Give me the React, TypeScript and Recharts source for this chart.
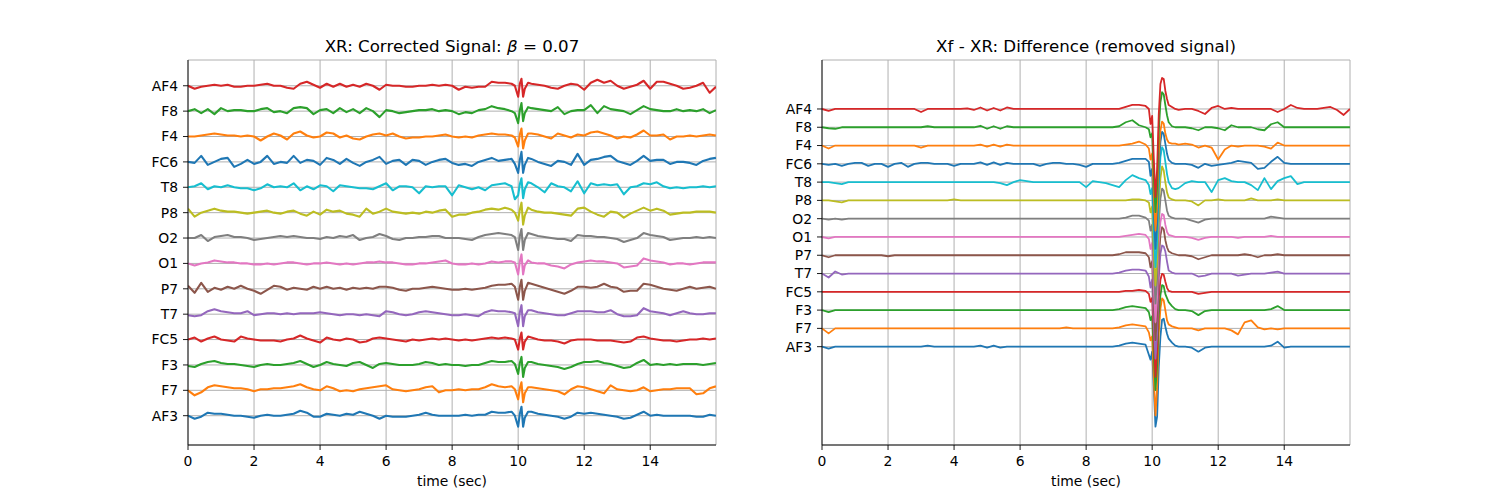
import React from 'react';
import { LineChart, Line, XAxis, YAxis, CartesianGrid } from 'recharts';

// ---------- categories ----------
const CHANNELS = ['AF3', 'F7', 'F3', 'FC5', 'T7', 'P7', 'O1', 'O2', 'P8', 'T8', 'FC6', 'F4', 'F8', 'AF4'];
const COLORS = ['#1f77b4', '#ff7f0e', '#2ca02c', '#d62728', '#9467bd', '#8c564b', '#e377c2', '#7f7f7f', '#bcbd22', '#17becf', '#1f77b4', '#ff7f0e', '#2ca02c', '#d62728'];
const X_TICKS = [0, 2, 4, 6, 8, 10, 12, 14];
const T_END = 15.992;

// ---------- time samples (sec) ----------
const LEFT_T = [
  0, 0.2, 0.4, 0.6, 0.8, 1, 1.2, 1.4, 1.6, 1.8, 2, 2.2, 2.4, 2.6, 2.8, 3, 3.2, 3.4, 3.6, 3.8, 4,
  4.2, 4.4, 4.6, 4.8, 5, 5.2, 5.4, 5.6, 5.8, 6, 6.2, 6.4, 6.6, 6.8, 7, 7.2, 7.4, 7.6, 7.8,
  8, 8.2, 8.4, 8.6, 8.8, 9, 9.2, 9.4, 9.6, 9.8,
  9.9, 10, 10.05, 10.1, 10.15, 10.2, 10.3,
  10.4, 10.6, 10.8, 11, 11.2, 11.4, 11.6, 11.8,
  12, 12.2, 12.4, 12.6, 12.8, 13, 13.2, 13.4, 13.6, 13.8, 14, 14.2, 14.4, 14.6, 14.8, 15, 15.2, 15.4, 15.6, 15.8,
  15.99,
];

const RIGHT_T = [
  0, 0.2, 0.4, 0.6, 0.8, 1, 1.2, 1.4, 1.6, 1.8, 2, 2.2, 2.4, 2.6, 2.8,
  3, 3.2, 3.4, 3.6, 3.8, 4, 4.2, 4.4, 4.6, 4.8, 5, 5.2, 5.4, 5.6, 5.8,
  6, 6.2, 6.4, 6.6, 6.8, 7, 7.2, 7.4, 7.6, 7.8, 8, 8.2, 8.4, 8.6, 8.8,
  9, 9.2, 9.4, 9.6, 9.8, 9.9,
  9.95, 10, 10.05, 10.1, 10.15, 10.2, 10.25, 10.3, 10.35, 10.4, 10.45, 10.5, 10.6, 10.7, 10.8,
  11, 11.2, 11.4, 11.6, 11.8, 12, 12.2, 12.4, 12.6, 12.8, 13, 13.2, 13.4, 13.6, 13.8,
  14, 14.2, 14.4, 14.6, 14.8, 15, 15.2, 15.4, 15.6, 15.8,
  15.99,
];

// ---------- left panel: corrected signal amplitudes ----------
const L_AF4 = [
  0, -3, -1, 0, 1, 0, 1, -1, -1, 0, 0, 1, 2, 0, 0, -2, -3, 2, 4, 1, -2,
  2, -1, 2, -1, 1, -1, 2, 0, -4, 1, 0, 0, -1, -1, 0, 0, 1, 0, 1,
  0, -4, -1, -2, -1, -1, 4, 3, 3, 2,
  0, -11, 2, 7, -11, -3, 3,
  2, 1, 0, -2, -3, 0, 2, 1,
  -4, 3, 6, 3, 5, 0, -3, -1, 1, 5, -3, 4, 4, 2, 0, -3, -2, 0, 3, -7,
  -1,
];
const L_F8 = [
  0, 2, -2, 2, -3, 3, 0, 1, 1, 0, 0, 2, 3, -1, 0, -2, 3, 4, 3, -3, 1,
  2, -2, 3, -1, 2, -2, 3, 0, -6, 1, 0, -2, -1, 0, 1, 1, 2, 0, 1,
  0, -3, -1, -2, 1, 2, 5, 3, 2, 0,
  -2, -12, 1, 8, -10, -2, 4,
  3, 2, 1, 0, 4, -3, 0, 1,
  1, 6, -2, 5, 2, 1, 0, -3, 1, 5, 2, 1, 0, 0, 2, 0, 1, 0, 2, -2,
  1,
];
const L_F4 = [
  0, 0, 1, 2, 3, 2, 1, 1, 0, 1, 0, -4, 0, 3, 1, -3, 3, 5, 1, -1, 0,
  4, 3, -1, 1, -2, -3, 0, 2, 3, 1, 3, 0, -2, -1, -1, 0, 0, 1, 2,
  0, -1, 0, -1, 1, 2, 3, 2, 2, 1,
  -1, -10, 2, 8, -12, -4, 3,
  3, 2, 0, -2, 3, 1, -1, 2,
  1, 4, 5, 3, 1, -2, 0, -1, 2, 6, 1, 1, 2, -3, 0, 0, 1, 0, 1, 2,
  1,
];
const L_FC6 = [
  0, -1, 6, -3, 0, 3, 4, -5, -2, 2, -2, 0, 6, -2, 0, -1, 6, -1, 2, 1, -3,
  4, 2, -2, 3, -1, -4, 0, 2, 5, -2, 1, 2, -3, 2, 1, -3, 0, 2, 3,
  -1, -3, -2, -4, 0, 2, 4, 1, 2, 3,
  -2, -11, 2, 10, -11, -3, 4,
  3, 0, -2, -4, 1, 0, -3, 8,
  -3, 2, 3, 5, 6, 1, -1, -3, 1, 6, 1, 2, 2, -2, 0, 0, -1, -3, 1, 3,
  4,
];
const L_T8 = [
  0, 1, 4, -2, 1, 0, 2, 0, -1, -1, -3, -1, 3, 0, 1, 0, 4, -3, 1, -2, 2,
  1, -4, 2, 1, 0, -1, -1, -2, 1, 4, -3, 1, 1, 0, -6, 1, 0, 1, 1,
  -8, 2, 0, -2, 0, -3, 2, 3, 4, 1,
  -12, -8, 3, 9, -11, -2, 5,
  4, 0, -5, 4, 1, 0, -4, 6,
  -6, 4, 2, 3, 2, 3, -7, 0, 1, 4, 3, 5, 1, -1, 0, -1, 0, 0, 1, 0,
  1,
];
const L_P8 = [
  4, -4, 0, 2, 4, 2, 1, 1, 0, -1, 0, 1, 2, 0, -1, 1, 2, -1, -3, 1, -2,
  3, 1, 2, -1, -2, -4, 4, -1, 1, 4, 1, 0, -1, 0, -1, 1, 0, 2, 3,
  -4, -2, -2, 0, 1, 3, 4, 3, 5, 3,
  0, -8, 3, 10, -12, -3, 5,
  3, 1, 0, 0, -1, -2, -3, 4,
  5, 1, -2, -4, 1, 0, -5, -1, 2, 5, 2, 4, 2, -2, -1, 0, 0, 1, 1, 1,
  0,
];
const L_O2 = [
  0, 0, 3, -3, 1, 2, 3, 1, 1, 0, -2, -1, 0, 1, 2, 1, 2, 1, 0, 0, -1,
  1, 0, 2, 1, 3, -2, 0, 1, 4, 2, -1, -2, 0, 0, 1, 1, 2, 2, 0,
  0, 0, -1, -2, 1, 3, 4, 5, 4, 3,
  1, -12, 2, 9, -12, -2, 5,
  4, 2, 1, 0, -1, -1, -3, 3,
  2, 2, 1, 1, 0, -1, -4, -2, 0, 5, 3, 2, 1, -2, -1, 0, 0, 1, 0, 1,
  0,
];
const L_O1 = [
  0, -2, 0, 1, 3, 2, 1, 1, 0, 0, -1, -1, 0, -1, 0, 1, 1, 0, -1, 0, 0,
  1, 0, -1, 0, -1, 0, 1, 1, 2, 1, 1, 0, -1, -1, 0, 0, 1, 2, 3,
  0, -1, -1, 0, -1, 0, 2, 1, 2, 2,
  1, -11, 2, 9, -11, -2, 3,
  1, 0, 0, -2, -3, -5, -1, 1,
  2, 3, 2, 2, 1, 0, -4, -3, -2, 5, 3, 2, 1, -1, 0, 0, -1, 0, 1, 1,
  1,
];
const L_P7 = [
  3, -4, 6, -3, 1, -1, 2, 0, 3, 0, -2, -5, -1, 3, 2, -1, 1, 0, -1, 2, 0,
  2, 0, 1, -1, 1, 0, 1, 0, 2, 2, 1, -1, -2, 0, 0, 1, 2, 1, 0,
  -1, -1, 0, -1, 0, 1, 3, 4, 4, 5,
  2, -11, 2, 9, -11, -2, 6,
  5, 3, 1, -1, -3, -5, -2, 2,
  2, 1, 2, 5, 2, 1, -3, -2, -2, 5, 4, 2, 0, -1, -2, 0, 2, 0, 1, 2,
  0,
];
const L_T7 = [
  -1, -2, -1, 3, 5, 3, 2, 1, 1, 3, -1, 0, 1, 1, 0, 1, 0, 1, 1, 1, 2,
  1, 0, -1, 0, 0, -1, 0, -1, -2, 3, 2, 0, -1, 0, 2, 3, 2, 1, 0,
  -1, -1, 0, -1, -2, 2, 4, 3, 3, 2,
  1, -12, 2, 9, -12, -2, 4,
  4, 2, 1, 0, -1, -1, 1, 3,
  3, 3, 2, 2, 4, 0, -2, -2, -1, 6, 3, 2, 1, -1, 1, 3, 1, 0, 0, 1,
  1,
];
const L_FC5 = [
  0, 2, -2, 1, 3, 0, -1, -2, 3, 1, 0, -1, -1, -1, -2, 0, 1, 4, 1, -1, -3,
  2, 0, -1, 1, 0, -3, -2, 1, 2, 1, 0, -1, -2, 0, -1, 0, 1, 0, 1,
  0, -1, 0, -1, 0, 1, 2, 1, 2, 1,
  0, -10, 1, 7, -10, -2, 3,
  2, 0, -1, -1, -2, -4, -1, 0,
  0, 0, -1, -1, -1, -2, -3, -2, 2, 3, 1, 0, -1, -1, -2, -1, 0, 0, 1, 0,
  1,
];
const L_F3 = [
  -1, -2, 1, 3, 4, 2, 1, 1, 0, -1, -2, 0, 1, 0, 0, 1, 2, 4, 1, -2, 0,
  3, 1, 0, -1, 2, 3, 0, -3, 1, 2, 1, 0, 0, 0, 1, 3, 2, 0, 1,
  0, 0, -1, 0, 0, 2, 4, 3, 3, 4,
  1, -9, 2, 8, -12, -3, 3,
  3, 1, 0, -1, -2, -4, -2, 1,
  3, 3, 4, 2, 1, -1, -3, -2, 2, 5, 0, 1, 0, 1, 0, 1, 1, 1, 0, 1,
  2,
];
const L_F7 = [
  0, -5, -2, 3, 5, 4, 3, 2, 2, 1, -1, 1, 1, 2, 2, 3, 4, 6, 3, 1, 0,
  4, 2, -1, 0, -1, 1, 2, 3, 4, 5, 1, 0, -1, 0, 1, 3, 4, -2, 0,
  0, 1, 0, 1, 1, 3, 6, 4, 3, 4,
  1, -9, 2, 8, -12, -3, 3,
  3, 2, 1, 0, -1, -4, 1, 4,
  3, 1, -1, -3, 5, 1, 0, -1, 0, 3, -1, 0, 1, 1, 2, 2, 2, -4, -3, 2,
  4,
];
const L_AF3 = [
  0, -3, -1, 3, 2, 2, 1, 0, 0, -1, -2, 0, 1, 0, 0, 1, 2, 5, 3, -1, -1,
  2, 1, 0, 2, 1, 4, 2, 0, -3, 0, -1, -1, -1, 0, 1, 3, 1, 0, 0,
  0, 0, 1, 0, 1, 1, 4, 3, 3, 4,
  0, -11, 2, 9, -11, -2, 4,
  4, 2, 1, 0, -1, -3, -1, 3,
  2, 3, 2, 1, 0, -1, -3, -2, 1, 4, 0, 1, 0, 0, 0, 0, 0, -1, -1, 1,
  0,
];

// ---------- right panel: removed signal (difference) amplitudes ----------
const R_AF4 = [
  0, -2, 0, 0, 0, 0, 0, 0, 0, 0, 0, 0, 0, 0, 0,
  -3, 0, 0, 0, 0, 0, 0, 0.5, -1, 1.5, -1.5, 1, -1.5, 1.5, 0,
  0, 0, 0, 0, 0, 0, 0, 0, 0, 0, 0, 0, 0, 0, 0,
  0, 2, 4, 4, 3, 0,
  -15, -7, -50, -88, -60, -5, 25, 31, 30, 18, 10, 4, 2, 0, -1,
  0, 0, -2, -5, 1, 3, 0, 1, 0, 0, 0, 0, 0, 0, -3, 0, 4, 1, 0, 0, 0, 1, 2, -1, -6,
  0,
];
const R_F8 = [
  0, -1, -1.5, 0, 0, 0, 0, 0, 0, 0, 0, 0, 0, 0, 0,
  0, 1, 0, 0, 0, 0, 0, 0, 0, 1.5, -1.5, 1, -1.5, 1, 0,
  0, 0, 0, 0, 0, 0, 0, 0, 0, 0, 0, 0, 0, 0, 0,
  1, 5, 7, 2, 0, -2,
  -10, -6, -50, -85, -60, -5, 25, 35, 33, 22, 12, 5, 1, 0, 0,
  0, -1, -3, 0, 0, -1, -3, 2, 0, 0, 0, -2, -3, 3, 5, 0, 0, 0, 0, 0, 0, 0, 0, 0, 0,
  0,
];
const R_F4 = [
  0, -3, 0, 0, 0, 0, 0, 0, 0, 0, 0, 0, 0, 0, 0,
  -2, 0, 0, 0, 0, 0, 0, 0, 0, 1, -1, 1, -1, 1, 0,
  0, 0, 0, 0, 0, 0, 0, 0, 0, 0, 0, 0, 0, 0, 0,
  0, 1, 2, 4, 1, -3,
  -14, -8, -50, -85, -60, -8, 15, 24, 22, 12, 6, 3, 2, 2, 1,
  2, 1, -2, 0, -2, -14, -4, 0, -1, 0, 0, 0, -1, -3, 3, 0, 0, 0, 0, 0, 0, 0, 0, 0, 0,
  0,
];
const R_FC6 = [
  0, -1, 0, -2, 0, 1, 1, -2, 0, 0, -3, 0, 1, -3, 0,
  1, 1, 0, 0, 0, -2, 0, 0, 0, 1.5, -1, 1.5, -1, 1, 0,
  0, 0, 0, -2, 0, 1, 1, 0, 0, -1, -3, 0, 0, 0, 0,
  1, 3, 5, 5, 5, 2,
  -12, -5, -50, -85, -60, -5, 22, 32, 30, 20, 10, 4, 1, 0, 0,
  0, -1, -4, 0, -2, -1, 0, 1, 3, 2, 1, -5, -4, 2, 7, 1, 0, 0, 0, 0, 0, 0, 0, 0, 0,
  0,
];
const R_T8 = [
  0, 0, -1, -2, 0, 0, 0, 0, 0, 0, 0, 0, 0, 0, 0,
  0, 0, 0, 0, 0, 0, 0, 0, 0, 0, 0, 0, -1, -3, 0,
  2, 1, 0, 0, 0, 0, 0, 0, 0, 0, -5, 1, 0, -1, -3,
  -5, 2, 7, 4, 2, -3,
  -12, -6, -50, -85, -60, -5, 25, 35, 32, 20, 8, 0, -6, -7, -6,
  -1, 1, 0, 0, -10, 2, 4, 1, 0, 0, -3, -8, 4, -7, 1, 4, 6, -2, 0, 0, 0, 0, 0, 0, 0,
  0,
];
const R_P8 = [
  0, 0, -1, -2, 0, 0, 0, 0, 0, 0, 0, 0, 0, 0, 0,
  0, 0, 0, 0, 0, 1, 0, 0, 0, 0, 0, 0, 0, 0, 0,
  0, 0, 0, 0, 0, 0, 0, 0, 0, 0, 0, 0, 0, 0, 0,
  0, 0, 1, 1, 0, -2,
  -12, -6, -50, -85, -60, -5, 22, 34, 30, 18, 8, 3, 1, 0, 0,
  0, -1, -5, 0, 0, 1, 0, 0, 0, 0, 2, 0, 0, 0, 1, 0, 0, 0, 0, 0, 0, 0, 0, 0, 0,
  0,
];
const R_O2 = [
  0, -1, 0, -1, 0, 0, 0, 0, 0, 0, 0, 0, 0, 0, 0,
  0, 0, 0, 0, 0, 0, 0, 0, 0, 0, 0, 0, 0, 0, 0,
  0, 0, 0, 0, 0, 0, 0, 0, 0, 0, 0, 0, 0, 0, 0,
  0, 1, 3, 3, 1, -2,
  -12, -6, -50, -85, -60, -5, 20, 30, 28, 18, 8, 3, 1, 0, 0,
  0, -2, -4, -1, 0, 0, 0, 0, 0, 0, 0, 0, 0, 2, 1, 0, 0, 0, 0, 0, 0, 0, 0, 0, 0,
  0,
];
const R_O1 = [
  0, -1.5, 0, 0, 0, 0, 0, 0, 0, 0, 0, 0, 0, 0, 0,
  0, 0, 0, 0, 0, 0, 0, 0, 0, 0, 0, 0, 0, 0, 0,
  0, 0, 0, 0, 0, 0, 0, 0, 0, 0, 0, 0, 0, 0, 0,
  0, 1, 2, 3, 2, -2,
  -12, -6, -50, -85, -60, -6, 15, 23, 22, 12, 5, 2, 1, 0, 0,
  0, -1, -3, -1, 0, 0, 0, 0, -1, 0, 0, 0, 0, 1, 0, 0, 0, 0, 0, 0, 0, 0, 0, 0, 0,
  0,
];
const R_P7 = [
  0, -2, 0, 0, 0, 0, 0, 0, 0, 0, -1, 0, 0, 0, 0,
  0, 0, 0, 0, 0, 0, 0, 0, 0, 0, 0, 0, 0, 0, 0,
  0, 0, 0, 0, 0, 0, 0, 0, 0, 0, 0, 0, 0, 0, 0,
  1, 3, 3, 3, 2, -2,
  -12, -6, -50, -85, -60, -5, 20, 28, 26, 15, 8, 4, 2, 1, 0,
  0, -1, -4, -2, 0, 0, 0, 0, 0, 1, 0, -2, 0, 0, 1, 0, 0, 0, 0, 0, 0, 0, 0, 0, 0,
  0,
];
const R_T7 = [
  0, -4, 2, -1, 0, 0, 0, 0, 0, 0, 0, 0, 0, 0, 0,
  0, 0, 0, 0, 0, 0, 0, 0, 0, 0, 0, 0, 0, 0, 0,
  0, 0, 0, 0, 0, 0, 0, 0, 0, 0, 0, 0, 0, 0, 0,
  1, 3, 4, 4, 3, -3,
  -14, -6, -50, -85, -60, -5, 20, 28, 27, 22, 12, 3, 1, 0, 0,
  0, 0, -3, -2, 0, 0, 0, 0, -2, -1, 0, 0, 0, 1, 2, 0, 0, 0, 0, 0, 0, 0, 0, 0, 0,
  0,
];
const R_FC5 = [
  0, 0, 0, 0, 0, 0, 0, 0, 0, 0, 0, 0, 0, 0, 0,
  0, 0, 0, 0, 0, 0, 0, 0, 0, 0, 0, 0, 0, 0, 0,
  0, 0, 0, 0, 0, 0, 0, 0, 0, 0, 0, 0, 0, 0, 0,
  0, 1, 1, 2, 1, -2,
  -10, -6, -45, -85, -60, -6, 12, 18, 17, 10, 4, 1, 0, 0, 0,
  0, 0, -2, -1, 0, 0, 0, 0, 0, 0, 0, 0, 0, 0, 0, 0, 0, 0, 0, 0, 0, 0, 0, 0, 0,
  0,
];
const R_F3 = [
  0, -2, 0, 0, 0, 0, 0, 0, 0, 0, 0, 0, 0, 0, 0,
  0, 0, 0, 0, 0, 0, 0, 0, 0, 0, 0, 0, 0, 0, 0,
  0, 0, 0, 0, 0, 0, 0, 0, 0, 0, 0, 0, 0, 0, 0,
  1, 3, 4, 3, 2, -2,
  -10, -6, -45, -80, -55, -5, 15, 25, 24, 16, 12, 8, 4, 1, 0,
  0, -1, -5, -1, 0, 0, 0, 0, 0, 0, 0, 0, 0, 1, 4, 0, 0, 0, 0, 0, 0, 0, 0, 0, 0,
  0,
];
const R_F7 = [
  0, -5, 0, 0, 0, 0, 0, 0, 0, 0, 0, 0, 0, 0, 0,
  0, 0, 0, 0, 0, 0, 0, 0, 0, 0, 0, 0, 0, 0, 0,
  0, 0, 0, 0, 0, 0, 0, 1, 0, 0, 0, 0, 0, 0, 0,
  1, 3, 4, 3, 2, -4,
  -12, -8, -50, -87, -60, -5, 20, 30, 28, 18, 8, 4, 2, 1, 0,
  0, 0, -2, 0, 0, 0, 0, -2, -6, 6, 8, 1, -1, 0, -1, 0, 0, 0, 0, 0, 0, 0, 0, 0, 0,
  0,
];
const R_AF3 = [
  0, -2, 0, 0, 0, 0, 0, 0, 0, 0, 0, 0, 0, 0, 0,
  0, 1, 0, 0, 0, 0, 0, 0, 0, 1, -1, 1, -1, 0, 0,
  0, 0, 0, 0, 0, 0, 0, 0, 0, 0, 0, 0, 0, 0, 0,
  1, 3, 4, 3, 2, -8,
  -13, -5, -40, -80, -70, -20, 10, 27, 28, 20, 13, 8, 4, 1, 0,
  0, -1, -5, -1, 0, 0, 0, 0, 0, 0, 0, 0, 0, 1, 5, -1, 0, 0, 0, 0, 0, 0, 0, 0, 0,
  0,
];

const LEFT_SERIES = [L_AF3, L_F7, L_F3, L_FC5, L_T7, L_P7, L_O1, L_O2, L_P8, L_T8, L_FC6, L_F4, L_F8, L_AF4];
const RIGHT_SERIES = [R_AF3, R_F7, R_F3, R_FC5, R_T7, R_P7, R_O1, R_O2, R_P8, R_T8, R_FC6, R_F4, R_F8, R_AF4];

// channel offsets (same units as amplitudes) and y ranges
const LEFT_OFFSET = 25.38;
const LEFT_DOMAIN: [number, number] = [-29.3, 355.7];
const RIGHT_OFFSET = 18.28;
const RIGHT_DOMAIN: [number, number] = [-98.3, 286.6];

function buildRows(times: number[], series: number[][], offset: number) {
  return times.map((t, i) => {
    const row: Record<string, number> = { t };
    CHANNELS.forEach((ch, k) => {
      const v = series[k][i];
      row[ch] = k * offset + (v === undefined ? 0 : v);
    });
    return row;
  });
}

const LEFT_ROWS = buildRows(LEFT_T, LEFT_SERIES, LEFT_OFFSET);
const RIGHT_ROWS = buildRows(RIGHT_T, RIGHT_SERIES, RIGHT_OFFSET);

const FONT = "'DejaVu Sans', sans-serif";
const TICK_FONT = { fill: '#000', fontSize: 13.9, fontFamily: FONT };
const SPINE = { stroke: '#000', strokeWidth: 0.9 };

function Panel(props: {
  rows: Record<string, number>[];
  offset: number;
  domain: [number, number];
  width: number;
  yAxisWidth: number;
  marginRight: number;
  lineWidth: number;
}) {
  const { rows, offset, domain, width, yAxisWidth, marginRight, lineWidth } = props;
  const yTicks = CHANNELS.map((_, k) => k * offset);
  return (
    <LineChart
      width={width}
      height={500}
      data={rows}
      margin={{ top: 60, right: marginRight, bottom: 25, left: 0 }}
    >
      <CartesianGrid stroke="#b0b0b0" strokeWidth={1} />
      <XAxis
        type="number"
        dataKey="t"
        domain={[0, T_END]}
        ticks={X_TICKS}
        allowDataOverflow
        interval={0}
        height={30}
        stroke="#000"
        tickSize={5}
        tickMargin={6}
        tick={TICK_FONT}
        axisLine={SPINE}
        tickLine={SPINE}
      />
      <XAxis
        xAxisId="top"
        orientation="top"
        type="number"
        dataKey="t"
        domain={[0, T_END]}
        allowDataOverflow
        height={0}
        tick={false}
        tickLine={false}
        axisLine={SPINE}
      />
      <YAxis
        type="number"
        domain={domain}
        ticks={yTicks}
        allowDataOverflow
        interval={0}
        width={yAxisWidth}
        stroke="#000"
        tickSize={5}
        tickMargin={5}
        tick={TICK_FONT}
        axisLine={SPINE}
        tickLine={SPINE}
        tickFormatter={(v: number) => CHANNELS[Math.round(v / offset)] || ''}
      />
      <YAxis
        yAxisId="right"
        orientation="right"
        type="number"
        domain={domain}
        allowDataOverflow
        width={0}
        tick={false}
        tickLine={false}
        axisLine={SPINE}
      />
      {CHANNELS.map((ch, k) => (
        <Line
          key={ch}
          type="linear"
          dataKey={ch}
          stroke={COLORS[k]}
          strokeWidth={lineWidth}
          strokeLinejoin="round"
          dot={false}
          activeDot={false}
          isAnimationActive={false}
        />
      ))}
    </LineChart>
  );
}

export default function App() {
  return (
    <div
      style={{
        position: 'absolute',
        left: 0,
        top: 0,
        width: 1500,
        height: 500,
        background: '#fff',
        fontFamily: FONT,
      }}
    >
      <div style={{ position: 'absolute', left: 0, top: 0 }}>
        <Panel rows={LEFT_ROWS} offset={LEFT_OFFSET} domain={LEFT_DOMAIN} width={760} yAxisWidth={188} marginRight={44} lineWidth={2.1} />
      </div>
      <div style={{ position: 'absolute', left: 760, top: 0 }}>
        <Panel rows={RIGHT_ROWS} offset={RIGHT_OFFSET} domain={RIGHT_DOMAIN} width={740} yAxisWidth={62} marginRight={150} lineWidth={1.8} />
      </div>
      <svg
        width={1500}
        height={500}
        style={{ position: 'absolute', left: 0, top: 0, pointerEvents: 'none' }}
      >
        <text x={452} y={52} textAnchor="middle" fontSize={16.67} fontFamily={FONT} fill="#000">
          XR: Corrected Signal: <tspan fontStyle="italic">β</tspan> = 0.07
        </text>
        <text x={1086} y={52} textAnchor="middle" fontSize={16.67} fontFamily={FONT} fill="#000">
          Xf - XR: Difference (removed signal)
        </text>
        <text x={452} y={486} textAnchor="middle" fontSize={13.9} fontFamily={FONT} fill="#000">
          time (sec)
        </text>
        <text x={1086} y={486} textAnchor="middle" fontSize={13.9} fontFamily={FONT} fill="#000">
          time (sec)
        </text>
      </svg>
    </div>
  );
}
